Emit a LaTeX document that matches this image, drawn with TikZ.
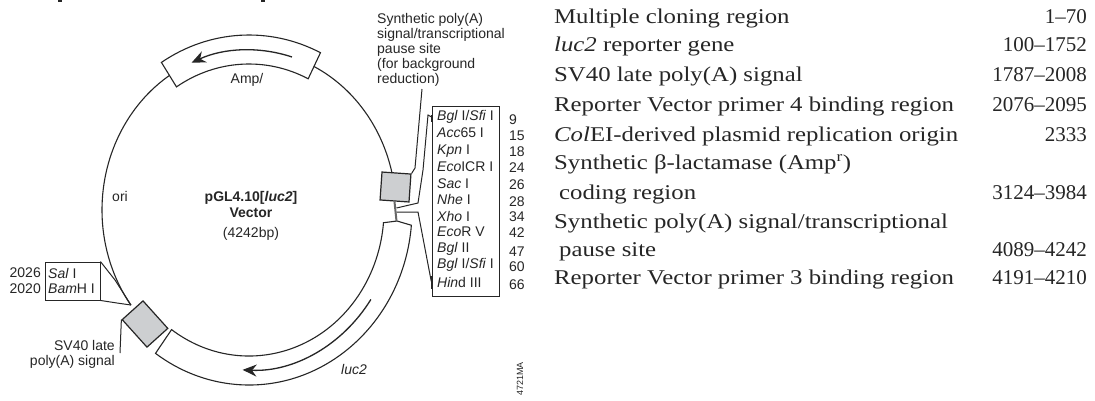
\documentclass[tikz,border=0pt]{standalone}
\usepackage{fontspec}
\setmainfont{Liberation Serif}
\setsansfont{Liberation Sans}
\newfontfamily\tablefont[FakeStretch=1.18]{Liberation Serif}
\usetikzlibrary{arrows.meta, calc}
\definecolor{plasmidInk}{HTML}{262626}
\definecolor{siteGray}{HTML}{CDCFD1}

\begin{document}
\begin{tikzpicture}[x=1pt, y=1pt,
    mapText/.style={font=\sffamily\fontsize{14}{15}\selectfont, text=plasmidInk, inner sep=0pt},
    siteBox/.style={draw=plasmidInk, fill=siteGray, line width=1.2pt},
    wire/.style={draw=plasmidInk, line width=1pt},
    band/.style={draw=plasmidInk, line width=1.1pt, fill=white},
    geneArr/.style={-{Stealth[length=14pt,width=12pt]}, line width=1.3pt, plasmidInk},
    tableRow/.style={font=\tablefont\fontsize{21}{24}\selectfont, text=plasmidInk, inner sep=0pt, anchor=base west},
    tablePos/.style={font=\fontsize{21}{24}\selectfont, text=plasmidInk, inner sep=0pt, anchor=base east}
  ]
  \useasboundingbox (0,0) rectangle (1095,-400);
  \fill[white] (0,0) rectangle (1095,-400);

  % cut off title
  \fill[plasmidInk] (58,0) rectangle (61.5,-1.5);
  \fill[plasmidInk] (261,0) rectangle (264.5,-1.5);

  \coordinate (ctr) at (249,-210);

  % backbone
  \begin{scope}[shift={(ctr)}]
    \draw[plasmidInk, line width=1.1pt] (13.4:147pt and 160pt) arc[start angle=13.4, end angle=64, x radius=147pt, y radius=160pt];
    \draw[plasmidInk, line width=1.1pt] (122:147pt and 160pt) arc[start angle=122, end angle=216.5, x radius=147pt, y radius=160pt];

    % Amp and luc2 bands
    \draw[band] (64:163pt and 175pt) arc[start angle=64, end angle=122.5, x radius=163pt, y radius=175pt]
      -- (122.5:135pt and 146pt) arc[start angle=122.5, end angle=64, x radius=135pt, y radius=146pt] -- cycle;
    \draw[band] (-5:163pt and 175pt) arc[start angle=-5, end angle=-125, x radius=163pt, y radius=175pt]
      -- (-125:135pt and 146pt) arc[start angle=-125, end angle=-5, x radius=135pt, y radius=146pt]
      -- (148pt,-11pt) -- cycle;

    \draw[geneArr] (73:147pt and 160pt) arc[start angle=73, end angle=113, x radius=147pt, y radius=160pt];
    \draw[geneArr] (-34:147pt and 160pt) arc[start angle=-34, end angle=-92.5, x radius=147pt, y radius=160pt];
  \end{scope}

  % gray sites
  \node[siteBox, minimum width=29pt, minimum height=28pt, rotate=-4, inner sep=0pt] (pauseSite) at (395.5,-187) {};
  \node[siteBox, minimum width=37pt, minimum height=28pt, rotate=-48, inner sep=0pt] (sv40Site) at (145,-324) {};

  \coordinate (stemEnd) at (396.5,-221);
  \draw[plasmidInk!70, line width=2pt] (pauseSite.south) -- (stemEnd);

  % cloning site box
  \node[draw=plasmidInk, line width=0.9pt, minimum width=67pt, minimum height=190pt, inner sep=0pt] (mcsBox) at (465.5,-201) {};
  \foreach \i/\name/\num/\yy/\ny in {
      1/{\textit{Bgl} I/\textit{Sfi} I}/9/117/120, 2/{\textit{Acc}65 I}/15/133/136, 3/{\textit{Kpn} I}/18/151/152,
      4/{\textit{Eco}ICR I}/24/167/168, 5/{\textit{Sac} I}/26/184/185, 6/{\textit{Nhe} I}/28/199/202,
      7/{\textit{Xho} I}/34/216/217, 8/{\textit{Eco}R V}/42/232/233, 9/{\textit{Bgl} II}/47/249/252,
      10/{\textit{Bgl} I/\textit{Sfi} I}/60/265/267, 11/{\textit{Hin}d III}/66/282/285} {
    \node[mapText, anchor=west] (site\i) at (437,-\yy) {\name};
    \node[mapText, anchor=west] (num\i) at (509,-\ny) {\num};
  }

  % wires to the cloning sites
  \coordinate (mcsTop) at (mcsBox.north west |- site1.west);
  \coordinate (mcsBot) at (mcsBox.north west |- site11.west);
  \coordinate (branchUp) at (396.5,-208);
  \coordinate (branchLow) at (396.5,-212);
  \draw[wire] (branchUp) -- (418,-203) -- (423,-170) -- (428,-115) -- (mcsTop);
  \draw[wire] (branchLow) -- (418,-212) -- (431,-280) -- (mcsBot);
  \draw[line width=2pt, plasmidInk] (mcsBox.north west |- 0,-115) -- (mcsBox.north west |- 0,-122);
  \draw[line width=2pt, plasmidInk] (mcsBox.north west |- 0,-276) -- (mcsBox.north west |- 0,-289);

  % pause site label
  \node[mapText, anchor=north west, align=left] (pauseLbl) at (377,-13)
    {Synthetic poly(A)\\signal/transcriptional\\pause site\\(for background\\reduction)};
  \coordinate (pauseEnd) at (422,-89);
  \draw[wire] (pauseSite.north east) -- (415,-168) -- (pauseEnd);

  % SalI / BamHI box
  \node[draw=plasmidInk, line width=0.9pt, minimum width=55pt, minimum height=38pt, inner sep=0pt] (salBox) at (72.5,-281) {};
  \node[mapText, anchor=west] (salLbl) at (48,-273) {\textit{Sal} I};
  \node[mapText, anchor=west] (bamLbl) at (48,-289) {\textit{Bam}H I};
  \node[mapText, anchor=east] (salNum) at (41,-273) {2026};
  \node[mapText, anchor=east] (bamNum) at (41,-289) {2020};
  \coordinate (sv40Tip) at (131,-305);
  \draw[wire] (salBox.north east) -- (115,-280) -- (sv40Tip);
  \draw[wire] (salBox.south east) -- (117,-303) -- (sv40Tip);

  % map labels
  \node[mapText, anchor=north east, align=right] (sv40Lbl) at (115,-340) {SV40 late\\poly(A) signal};
  \coordinate (sv40End) at (120,-353);
  \draw[wire] (sv40Site.south west) -- (sv40End);
  \node[mapText, font=\sffamily\bfseries\fontsize{14}{15}\selectfont] (vecName) at (251,-198) {pGL4.10[\textit{luc2}]};
  \node[mapText, font=\sffamily\bfseries\fontsize{14}{15}\selectfont] (vecWord) at (251,-213) {Vector};
  \node[mapText] (vecSize) at (251,-234) {(4242bp)};
  \node[mapText] (oriLbl) at (120,-196) {ori};
  \node[mapText] (ampLbl) at (247,-80) {Amp/};
  \node[mapText] (lucLbl) at (354,-369) {\textit{luc2}};
  \node[mapText, font=\sffamily\fontsize{9}{10}\selectfont, rotate=90] (figNum) at (520,-379) {4721MA};

  % table
  \foreach \i/\row/\pos/\yy in {
      1/{Multiple cloning region}/{1–70}/23, 2/{\textit{luc2} reporter gene}/{100–1752}/51,
      3/{SV40 late poly(A) signal}/{1787–2008}/81, 4/{Reporter Vector primer 4 binding region}/{2076–2095}/111,
      5/{\textit{Col}EI-derived plasmid replication origin}/{2333}/141, 6/{Synthetic β-lactamase (Amp\textsuperscript{r})}/{}/169,
      7/{\hspace{5pt}coding region}/{3124–3984}/199, 8/{Synthetic poly(A) signal/transcriptional}/{}/228,
      9/{\hspace{5pt}pause site}/{4089–4242}/256, 10/{Reporter Vector primer 3 binding region}/{4191–4210}/284} {
    \node[tableRow] (row\i) at (554,-\yy) {\row};
    \node[tablePos] (pos\i) at (1087,-\yy) {\pos};
  }
\end{tikzpicture}
\end{document}
